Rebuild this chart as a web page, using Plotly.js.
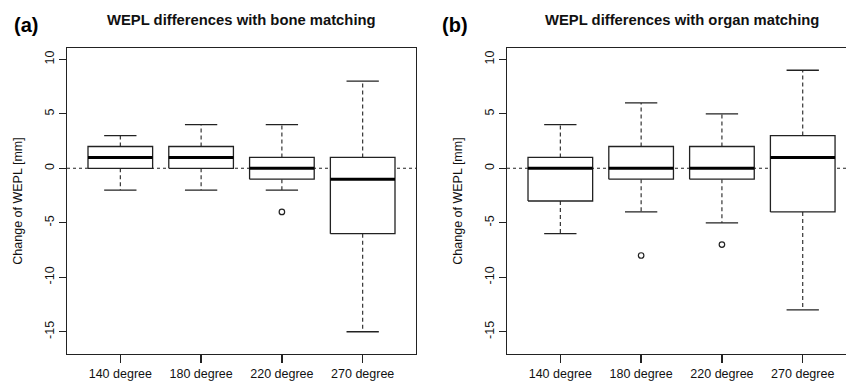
<!DOCTYPE html>
<html><head><meta charset="utf-8">
<script src="https://cdn.plot.ly/plotly-3.0.1.min.js"></script>
<style>html,body{margin:0;padding:0;background:#fff}#chart{width:846px;height:385px}</style>
</head><body><div id="chart"></div>
<script>
const categories = ["140 degree", "180 degree", "220 degree", "270 degree"];
// Bone matching (a)
const boneLower  = [-2, -2, -2, -15];
const boneQ1     = [0, 0, -1, -6];
const boneMedian = [1, 1, 0, -1];
const boneQ3     = [2, 2, 1, 1];
const boneUpper  = [3, 4, 4, 8];
const boneOutX   = [3];
const boneOutY   = [-4];
// Organ matching (b)
const organLower  = [-6, -4, -5, -13];
const organQ1     = [-3, -1, -1, -4];
const organMedian = [0, 0, 0, 1];
const organQ3     = [1, 2, 2, 3];
const organUpper  = [4, 6, 5, 9];
const organOutX   = [2, 3];
const organOutY   = [-8, -7];
const yTicks = [-15, -10, -5, 0, 5, 10];

const LC = '#222';
const FONT = 'Liberation Sans, Arial, sans-serif';
const HW = 0.4, CW = 0.2;

function panelTraces(lo, q1, med, q3, up, ox, oy, xa, ya) {
  const bx = [], by = [], mx = [], my = [], wx = [], wy = [], cx = [], cy = [];
  for (let i = 0; i < categories.length; i++) {
    const p = i + 1;
    bx.push(p-HW, p+HW, p+HW, p-HW, p-HW, null);
    by.push(q1[i], q1[i], q3[i], q3[i], q1[i], null);
    mx.push(p-HW, p+HW, null); my.push(med[i], med[i], null);
    wx.push(p, p, null, p, p, null); wy.push(q3[i], up[i], null, q1[i], lo[i], null);
    cx.push(p-CW, p+CW, null, p-CW, p+CW, null); cy.push(up[i], up[i], null, lo[i], lo[i], null);
  }
  const base = {type: 'scatter', mode: 'lines', xaxis: xa, yaxis: ya, hoverinfo: 'skip', showlegend: false};
  return [
    Object.assign({}, base, {x: wx, y: wy, line: {color: LC, width: 1.1, dash: '4px,3px'}}),
    Object.assign({}, base, {x: cx, y: cy, line: {color: LC, width: 1.3}}),
    Object.assign({}, base, {x: bx, y: by, line: {color: LC, width: 1.3}, fill: 'toself', fillcolor: '#fff'}),
    Object.assign({}, base, {x: mx, y: my, line: {color: '#000', width: 3}}),
    Object.assign({}, base, {x: ox, y: oy, mode: 'markers',
      marker: {symbol: 'circle-open', size: 5.5, color: LC, line: {width: 1.2, color: LC}}})
  ];
}

const data = [].concat(
  panelTraces(boneLower, boneQ1, boneMedian, boneQ3, boneUpper, boneOutX, boneOutY, 'x', 'y'),
  panelTraces(organLower, organQ1, organMedian, organQ3, organUpper, organOutX, organOutY, 'x2', 'y2')
);

const W = 846, H = 385;
const yDom = [1 - 354/H, 1 - 48/H];
const yRange = [-17.04, 11.04];
const xCommon = {
  tickmode: 'array', tickvals: [1,2,3,4], ticktext: categories,
  ticks: 'outside', ticklen: 8, tickwidth: 1.3, tickcolor: LC,
  showline: true, linecolor: LC, linewidth: 1.3, mirror: true,
  showgrid: false, zeroline: false, fixedrange: true,
  tickfont: {family: FONT, size: 12.5, color: '#111'}
};
const yCommon = {
  range: yRange, domain: yDom,
  tickmode: 'array', tickvals: yTicks, ticktext: yTicks.map(String),
  ticks: 'outside', ticklen: 7, tickwidth: 1.3, tickcolor: LC, tickangle: -90,
  showline: true, linecolor: LC, linewidth: 1.3,
  showgrid: false, zeroline: false, fixedrange: true,
  tickfont: {family: FONT, size: 12.5, color: '#111'},
  title: {text: 'Change of WEPL [mm]', font: {family: FONT, size: 12.5, color: '#111'}, standoff: 17}
};

const layout = {
  width: W, height: H,
  margin: {l: 0, r: 0, t: 0, b: 0},
  paper_bgcolor: '#fff', plot_bgcolor: '#fff',
  xaxis: Object.assign({}, xCommon, {domain: [67/W, 416/W], range: [0.34, 4.66], anchor: 'y'}),
  xaxis2: Object.assign({}, xCommon, {domain: [507/W, 1], range: [0.34, 0.34 + 339/80.8], anchor: 'y2'}),
  yaxis: Object.assign({}, yCommon, {anchor: 'x', mirror: true}),
  yaxis2: Object.assign({}, yCommon, {anchor: 'x2', mirror: false}),
  shapes: [
    {type: 'line', xref: 'x domain', yref: 'y', x0: 0, x1: 1, y0: 0, y1: 0, line: {color: LC, width: 1.1, dash: 'dot'}, layer: 'below'},
    {type: 'line', xref: 'x2 domain', yref: 'y2', x0: 0, x1: 1, y0: 0, y1: 0, line: {color: LC, width: 1.1, dash: 'dot'}, layer: 'below'}
  ],
  annotations: [
    {text: '<b>WEPL differences with bone matching</b>', xref: 'paper', yref: 'paper', x: 241.5/W, y: 1 - 20/H, xanchor: 'center', yanchor: 'middle', showarrow: false, font: {family: FONT, size: 14.8, color: '#111'}},
    {text: '<b>WEPL differences with organ matching</b>', xref: 'paper', yref: 'paper', x: 681.5/W, y: 1 - 20/H, xanchor: 'center', yanchor: 'middle', showarrow: false, font: {family: FONT, size: 14.8, color: '#111'}},
    {text: '<b>(a)</b>', xref: 'paper', yref: 'paper', x: 12/W, y: 1 - 25/H, xanchor: 'left', yanchor: 'middle', showarrow: false, font: {family: FONT, size: 20, color: '#000'}},
    {text: '<b>(b)</b>', xref: 'paper', yref: 'paper', x: 440/W, y: 1 - 25/H, xanchor: 'left', yanchor: 'middle', showarrow: false, font: {family: FONT, size: 20, color: '#000'}}
  ]
};
Plotly.newPlot('chart', data, layout, {displayModeBar: false, staticPlot: true});
</script>
</body></html>
